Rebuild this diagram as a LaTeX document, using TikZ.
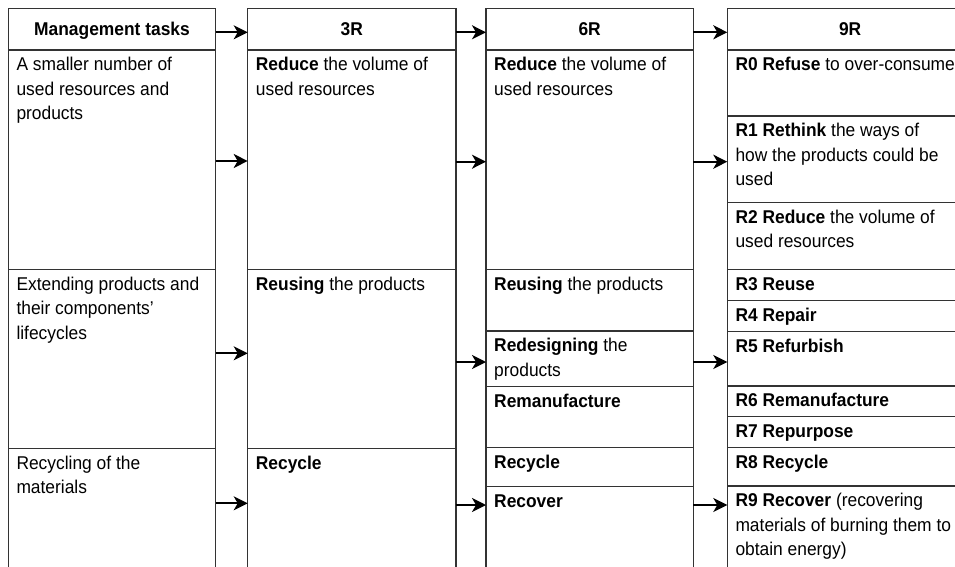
\documentclass[tikz,border=0pt]{standalone}
\usepackage{fontspec}
\setmainfont{Liberation Sans}[FakeStretch=0.94]
\usetikzlibrary{arrows.meta}
\newcommand\mkcell[5]{\node[cell, minimum width={#4pt-#2pt}, minimum height={#5pt-#3pt}] (#1) at (#2,#3) {};}
\begin{document}
\begin{tikzpicture}[x=1pt,y=-1pt,
  cell/.style={draw=black!80, line width=1.2pt, rectangle, inner sep=0pt, outer sep=0pt, anchor=north west},
  head/.style={cell, font=\fontsize{18.5}{24.5}\selectfont\bfseries, text height=13.2pt, text depth=0pt},
  txt/.style={anchor=base west, inner sep=0pt, align=left, font=\fontsize{18.5}{24.5}\selectfont},
  twolines/.style={yshift=-24.5pt},
  threelines/.style={yshift=-49pt},
  arr/.style={line width=2pt, -{Stealth[length=14pt, width=14pt, inset=4pt]}},
]
\fill[white] (0,0) rectangle (955,567);
\useasboundingbox (0,0) rectangle (955,567);

% headers
\node[head, minimum width={207.4pt}, minimum height={41.7pt}] (h1) at (8.3,8.3) {Management tasks};
\node[head, minimum width={208.3pt}, minimum height={41.7pt}] (h2) at (247.7,8.3) {3R};
\node[head, minimum width={207.3pt}, minimum height={41.7pt}] (h3) at (486,8.3) {6R};
\node[head, minimum width={245.7pt}, minimum height={41.7pt}] (h4) at (727.3,8.3) {9R};

% column 1
\mkcell{c11}{8.3}{50}{215.7}{269.3}
\mkcell{c12}{8.3}{269.3}{215.7}{448.3}
\mkcell{c13}{8.3}{448.3}{215.7}{620}
% column 2
\mkcell{c21}{247.7}{50}{456}{269.3}
\mkcell{c22}{247.7}{269.3}{456}{448.3}
\mkcell{c23}{247.7}{448.3}{456}{620}
% column 3
\mkcell{c31}{486}{50}{693.3}{269.3}
\mkcell{c32}{486}{269.3}{693.3}{331}
\mkcell{c33}{486}{331}{693.3}{386.7}
\mkcell{c34}{486}{386.7}{693.3}{447.7}
\mkcell{c35}{486}{447.7}{693.3}{486.7}
\mkcell{c36}{486}{486.7}{693.3}{620}
% column 4
\mkcell{r0}{727.3}{50}{973}{116}
\mkcell{r1}{727.3}{116}{973}{202.3}
\mkcell{r2}{727.3}{202.3}{973}{269.3}
\mkcell{r3}{727.3}{269.3}{973}{300.7}
\mkcell{r4}{727.3}{300.7}{973}{331.7}
\mkcell{r5}{727.3}{331.7}{973}{386}
\mkcell{r6}{727.3}{386}{973}{416.7}
\mkcell{r7}{727.3}{416.7}{973}{447.3}
\mkcell{r8}{727.3}{447.3}{973}{486}
\mkcell{r9}{727.3}{486}{973}{620}

% texts
\node[txt, threelines] (t11) at ([shift={(8,20.9)}]c11.north west) {A smaller number of\\used resources and\\products};
\node[txt, threelines] (t12) at ([shift={(8,20.9)}]c12.north west) {Extending products and\\their components’\\lifecycles};
\node[txt, twolines] (t13) at ([shift={(8,20.9)}]c13.north west) {Recycling of the\\materials};
\node[txt, twolines] (t21) at ([shift={(8,20.9)}]c21.north west) {\textbf{Reduce} the volume of\\used resources};
\node[txt] (t22) at ([shift={(8,20.9)}]c22.north west) {\textbf{Reusing} the products};
\node[txt] (t23) at ([shift={(8,20.9)}]c23.north west) {\textbf{Recycle}};
\node[txt, twolines] (t31) at ([shift={(8,20.9)}]c31.north west) {\textbf{Reduce} the volume of\\used resources};
\node[txt] (t32) at ([shift={(8,20.9)}]c32.north west) {\textbf{Reusing} the products};
\node[txt, twolines] (t33) at ([shift={(8,20.9)}]c33.north west) {\textbf{Redesigning} the\\products};
\node[txt] (t34) at ([shift={(8,20.9)}]c34.north west) {\textbf{Remanufacture}};
\node[txt] (t35) at ([shift={(8,20.9)}]c35.north west) {\textbf{Recycle}};
\node[txt] (t36) at ([shift={(8,20.9)}]c36.north west) {\textbf{Recover}};
\node[txt] (tr0) at ([shift={(8,20.9)}]r0.north west) {\textbf{R0 Refuse} to over-consume};
\node[txt, threelines] (tr1) at ([shift={(8,20.9)}]r1.north west) {\textbf{R1 Rethink} the ways of\\how the products could be\\used};
\node[txt, twolines] (tr2) at ([shift={(8,20.9)}]r2.north west) {\textbf{R2 Reduce} the volume of\\used resources};
\node[txt] (tr3) at ([shift={(8,20.9)}]r3.north west) {\textbf{R3 Reuse}};
\node[txt] (tr4) at ([shift={(8,20.9)}]r4.north west) {\textbf{R4 Repair}};
\node[txt] (tr5) at ([shift={(8,20.9)}]r5.north west) {\textbf{R5 Refurbish}};
\node[txt] (tr6) at ([shift={(8,20.9)}]r6.north west) {\textbf{R6 Remanufacture}};
\node[txt] (tr7) at ([shift={(8,20.9)}]r7.north west) {\textbf{R7 Repurpose}};
\node[txt] (tr8) at ([shift={(8,20.9)}]r8.north west) {\textbf{R8 Recycle}};
\node[txt, threelines] (tr9) at ([shift={(8,20.9)}]r9.north west) {\textbf{R9 Recover} (recovering\\materials of burning them to\\obtain energy)};

% arrow levels
\coordinate (a0) at (0,32.3);
\coordinate (a1) at (0,161);
\coordinate (a1b) at (0,161.7);
\coordinate (a2) at (0,353.3);
\coordinate (a2b) at (0,362);
\coordinate (a3) at (0,503.3);
\coordinate (a3b) at (0,505);

% arrows
\draw[arr] (h1.east |- a0) -- (h2.west |- a0);
\draw[arr] (h2.east |- a0) -- (h3.west |- a0);
\draw[arr] (h3.east |- a0) -- (h4.west |- a0);
\draw[arr] (c11.east |- a1) -- (c21.west |- a1);
\draw[arr] (c21.east |- a1b) -- (c31.west |- a1b);
\draw[arr] (c31.east |- a1b) -- (r1.west |- a1b);
\draw[arr] (c12.east |- a2) -- (c22.west |- a2);
\draw[arr] (c22.east |- a2b) -- (c33.west |- a2b);
\draw[arr] (c33.east |- a2b) -- (r5.west |- a2b);
\draw[arr] (c13.east |- a3) -- (c23.west |- a3);
\draw[arr] (c23.east |- a3b) -- (c36.west |- a3b);
\draw[arr] (c36.east |- a3b) -- (r9.west |- a3b);
\end{tikzpicture}
\end{document}
